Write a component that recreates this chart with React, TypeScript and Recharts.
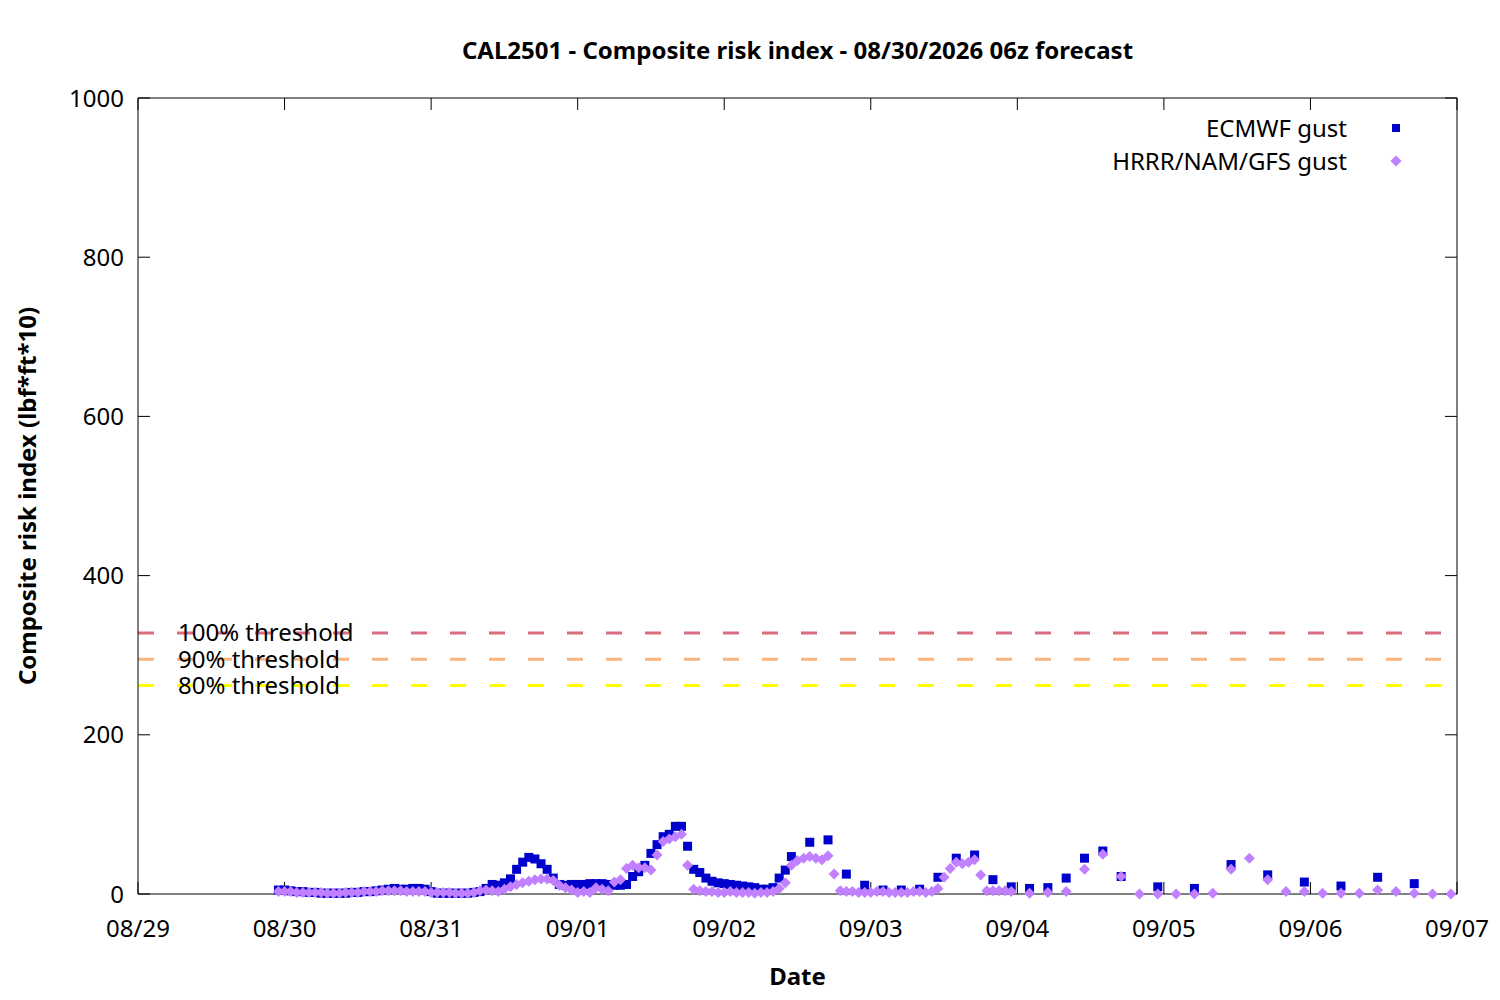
import { ScatterChart, Scatter, XAxis, YAxis, ReferenceLine } from 'recharts'

const FONT = '"Noto Sans", "DejaVu Sans", sans-serif'

// hours since 08/29 00:00
const dayTicks = [0, 24, 48, 72, 96, 120, 144, 168, 192, 216]
const dayLabels = ['08/29', '08/30', '08/31', '09/01', '09/02', '09/03', '09/04', '09/05', '09/06', '09/07']
const riskTicks = [0, 200, 400, 600, 800, 1000]

const ecmwfHours = [
    23, 24, 25, 26, 27, 28, 29, 30, 31, 32, 33, 34, 35, 36, 37, 38, 39, 40, 41, 42, 43, 44, 45, 46, 47,
    48, 49, 50, 51, 52, 53, 54, 55, 56, 57, 58, 59, 60, 61, 62, 63, 64, 65, 66, 67, 68, 69, 70, 71,
    72, 73, 74, 75, 76, 77, 78, 79, 80, 81, 82, 83, 84, 85, 86, 87, 88, 89, 90, 91, 92, 93, 94, 95,
    96, 97, 98, 99, 100, 101, 102, 103, 104, 105, 106, 107,
    110, 113, 116, 119, 122, 125, 128, 131, 134, 137, 140, 143, 146, 149, 152, 155, 158, 161,
    167, 173, 179, 185, 191, 197, 203, 209,
]
const ecmwfValues = [
    5, 5, 4, 3, 3, 2, 2, 1, 1, 1, 1, 1, 2, 2, 3, 3, 4, 5, 6, 7, 6, 6, 7, 7, 6,
    3, 1, 1, 1, 1, 1, 1, 2, 3, 7, 12, 11, 14, 19, 31, 40, 46, 44, 38, 31, 20, 12, 11, 12,
    12, 12, 13, 13, 13, 12, 11, 11, 12, 22, 28, 36, 51, 62, 72, 75, 85, 85, 60, 31, 27, 20, 16, 14,
    13, 12, 11, 10, 9, 8, 6, 6, 8, 20, 30, 47,
    65, 68, 25, 11, 5, 5, 6, 21, 45, 49, 18, 9, 7, 8, 20, 45, 54, 22,
    9, 7, 37, 24, 15, 10, 21, 13,
]

const hrrrHours = [
    23, 24, 25, 26, 27, 28, 29, 30, 31, 32, 33, 34, 35, 36, 37, 38, 39, 40, 41, 42, 43, 44, 45, 46, 47,
    48, 49, 50, 51, 52, 53, 54, 55, 56, 57, 58, 59, 60, 61, 62, 63, 64, 65, 66, 67, 68, 69, 70, 71,
    72, 73, 74, 75, 76, 77, 78, 79, 80, 81, 82, 83, 84, 85, 86, 87, 88, 89, 90, 91, 92, 93, 94, 95,
    96, 97, 98, 99, 100, 101, 102, 103, 104, 105, 106, 107, 108, 109, 110, 111, 112, 113, 114, 115, 116, 117, 118, 119,
    120, 121, 122, 123, 124, 125, 126, 127, 128, 129, 130, 131, 132, 133, 134, 135, 136, 137, 138, 139, 140, 141, 142, 143,
    146, 149, 152, 155, 158, 161, 164, 167, 170, 173, 176, 179, 182, 185, 188, 191, 194, 197, 200, 203, 206, 209, 212, 215,
]
const hrrrValues = [
    3, 3, 3, 2, 2, 2, 2, 2, 1, 1, 1, 2, 2, 2, 3, 3, 3, 4, 4, 4, 4, 3, 3, 3, 3,
    2, 2, 2, 2, 1, 1, 1, 2, 4, 5, 4, 3, 6, 9, 12, 14, 16, 18, 19, 19, 17, 11, 8, 5,
    2, 3, 2, 8, 6, 4, 15, 18, 32, 36, 33, 33, 30, 49, 66, 69, 72, 75, 36, 6, 4, 3, 3, 2,
    2, 3, 2, 2, 2, 1, 2, 2, 3, 7, 14, 36, 42, 45, 47, 45, 43, 48, 25, 4, 3, 3, 2, 2,
    2, 3, 3, 2, 2, 2, 2, 3, 3, 2, 3, 7, 21, 32, 40, 38, 40, 43, 24, 4, 4, 4, 4, 3,
    1, 2, 3, 31, 50, 22, 0, 0, 0, 0, 1, 31, 45, 18, 3, 3, 1, 1, 1, 5, 3, 1, 0, 0,
]

const thresholds = [
    { name: '100% threshold', value: 328, color: '#dc6d7f' },
    { name: '90% threshold', value: 295, color: '#f9b57d' },
    { name: '80% threshold', value: 262, color: '#ffff00' },
]

const ecmwfData = ecmwfHours.map((h, i) => ({ h, v: ecmwfValues[i] }))
const hrrrData = hrrrHours.map((h, i) => ({ h, v: hrrrValues[i] }))

const BLUE = '#0000cc'
const PURPLE = '#c080ff'

const Square = (props: any) => {
    const { cx, cy } = props
    return <rect x={cx - 4.5} y={cy - 4.5} width={9} height={9} fill={BLUE} />
}

const Diamond = (props: any) => {
    const { cx, cy } = props
    const r = 5.5
    return <polygon points={`${cx},${cy - r} ${cx + r},${cy} ${cx},${cy + r} ${cx - r},${cy}`} fill={PURPLE} />
}

// mirror axes: tick lines only, no text
const NoLabel = () => <g />

const legendItems = [
    { name: 'ECMWF gust', kind: 'square' },
    { name: 'HRRR/NAM/GFS gust', kind: 'diamond' },
]

const LegendBox = () => (
    <div style={{
        position: 'absolute', top: 111, left: 900, width: 545,
        fontFamily: FONT, fontSize: 24, color: '#000',
    }}>
        {legendItems.map(item => (
            <div key={item.name} style={{ display: 'flex', justifyContent: 'flex-end', alignItems: 'center', height: 33 }}>
                <span>{item.name}</span>
                <svg width={98} height={20} style={{ display: 'block' }}>
                    {item.kind === 'square'
                        ? <rect x={45} y={6} width={8} height={8} fill={BLUE} />
                        : <polygon points="49,4.5 54.5,10 49,15.5 43.5,10" fill={PURPLE} />}
                </svg>
            </div>
        ))}
    </div>
)

const tickStyle = { fill: '#000', fontSize: 24, fontFamily: FONT }

const App = () => {
    return (
        <div style={{ position: 'absolute', left: 0, top: 0, width: 1500, height: 1000, background: '#fff' }}>
            <div style={{
                position: 'absolute', left: 138, top: 34, width: 1319, textAlign: 'center',
                fontFamily: FONT, fontWeight: 700, fontSize: 24, lineHeight: '32px', color: '#000',
            }}>
                CAL2501 - Composite risk index - 08/30/2026 06z forecast
            </div>
            <ScatterChart width={1500} height={1000} margin={{ top: 97, right: 42, bottom: 0, left: 0 }}>
                <XAxis
                    dataKey="h"
                    type="number"
                    domain={[0, 216]}
                    ticks={dayTicks}
                    tickFormatter={(t: number) => dayLabels[dayTicks.indexOf(t)]}
                    height={106}
                    tickSize={-12}
                    tickMargin={38}
                    tick={tickStyle}
                    stroke="#000"
                    label={{
                        content: ({ viewBox }: any) => (
                            <text x={viewBox.x + viewBox.width / 2} y={985} textAnchor="middle"
                                  fontFamily={FONT} fontWeight={700} fontSize={24} fill="#000">Date</text>
                        ),
                    }}
                />
                <XAxis xAxisId="top" orientation="top" dataKey="h" type="number" domain={[0, 216]} ticks={dayTicks}
                       allowDataOverflow height={1} tick={NoLabel} tickSize={-12} stroke="#000" />
                <YAxis
                    dataKey="v"
                    type="number"
                    domain={[0, 1000]}
                    ticks={riskTicks}
                    width={138}
                    tickSize={-12}
                    tickMargin={26}
                    tick={tickStyle}
                    stroke="#000"
                    label={{
                        content: ({ viewBox }: any) => {
                            const cy = viewBox.y + viewBox.height / 2
                            return (
                                <text x={36} y={cy} transform={`rotate(-90 36 ${cy})`} textAnchor="middle"
                                      fontFamily={FONT} fontWeight={700} fontSize={24} fill="#000">
                                    Composite risk index (lbf*ft*10)
                                </text>
                            )
                        },
                    }}
                />
                <YAxis yAxisId="right" orientation="right" dataKey="v" type="number" domain={[0, 1000]} ticks={riskTicks}
                       allowDataOverflow width={1} tick={NoLabel} tickSize={-12} stroke="#000" />
                {thresholds.map(t => (
                    <ReferenceLine key={t.name + '-label'} y={t.value} stroke="none"
                                   label={{ value: t.name, position: 'insideLeft', offset: 40, fill: '#000', fontSize: 24, fontFamily: FONT }} />
                ))}
                {thresholds.map(t => (
                    <ReferenceLine key={t.name} y={t.value} stroke={t.color} strokeWidth={3} strokeDasharray="16 23" />
                ))}
                <Scatter name="ECMWF gust" data={ecmwfData} shape={Square} isAnimationActive={false} />
                <Scatter name="HRRR/NAM/GFS gust" data={hrrrData} shape={Diamond} isAnimationActive={false} />
            </ScatterChart>
            <LegendBox />
        </div>
    )
}

export default App
